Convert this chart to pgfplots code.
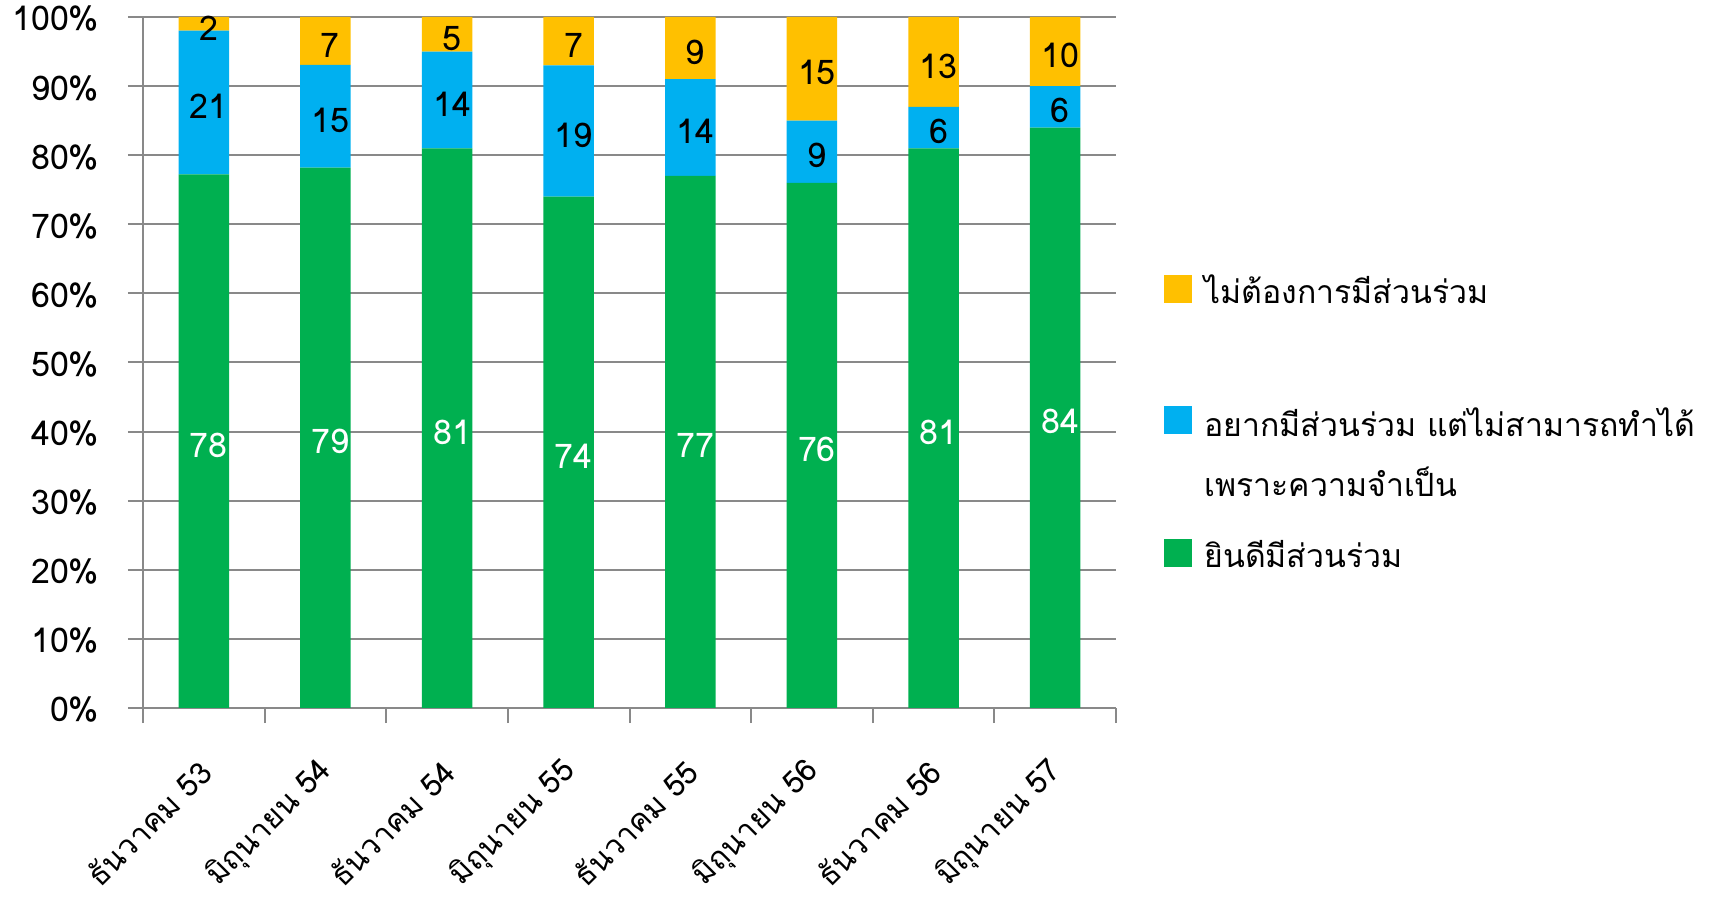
\documentclass[border=0pt]{standalone}
\usepackage{pgfplots}
\pgfplotsset{compat=1.18}
\usepackage{pgfplotstable}
\usepackage{fontspec}
\setmainfont{Loma}[Script=Thai]
\definecolor{cgreen}{HTML}{00B050}
\definecolor{cblue}{HTML}{00B0F0}
\definecolor{cyellow}{HTML}{FFC000}
\definecolor{cgrid}{HTML}{898989}

% bar heights: raw values normalised to 100 per bar
\pgfplotstableread{
x g b y
0 77.228 20.792 1.980
1 78.218 14.851 6.931
2 81 14 5
3 74 19 7
4 77 14 9
5 76 9 15
6 81 6 13
7 84 6 10
}\bars
% label positions (segment middles) and raw labels
\pgfplotstableread{
x gm bm ym gl bl yl
0 38.61 87.62 99.01 78 21 2
1 39.11 85.64 96.53 79 15 7
2 40.5 88 97.5 81 14 5
3 37 83.5 96.5 74 19 7
4 38.5 84 95.5 77 14 9
5 38 80.5 92.5 76 9 15
6 40.5 84 93.5 81 6 13
7 42 87 95 84 6 10
}\labs

\begin{document}
\fontsize{16}{19}\selectfont
\begin{tikzpicture}
\useasboundingbox (0,0) rectangle (856pt,449.5pt);
\begin{axis}[
  at={(71.5pt,95.5pt)}, anchor=south west,
  scale only axis, width=486.5pt, height=345.5pt,
  ybar stacked, bar width=0.415,
  xmin=-0.5, xmax=7.5, ymin=0, ymax=100,
  xtick={0,...,7},
  xticklabels={ธันวาคม 53,มิถุนายน 54,ธันวาคม 54,มิถุนายน 55,ธันวาคม 55,มิถุนายน 56,ธันวาคม 56,มิถุนายน 57},
  minor xtick={-0.5,0.5,...,7.5},
  ytick={0,10,...,100},
  yticklabel={\pgfmathprintnumber{\tick}\%},
  /pgf/number format/assume math mode=true,
  axis x line*=bottom, axis y line*=left,
  axis line style={cgrid, line width=1pt},
  ymajorgrids, major grid style={cgrid, line width=1pt},
  tick align=outside,
  major tick length=7.5pt, minor tick length=7.5pt,
  tick style={cgrid, line width=1pt},
  major x tick style={draw=none},
  xticklabel style={xshift=1pt, yshift=-21.5pt, rotate=45, anchor=east, inner sep=0pt, font=\fontsize{15.5}{18}\selectfont},
  yticklabel style={anchor=east, inner sep=0pt, xshift=-14.2pt, yshift=-1pt, font=\fontsize{17}{20}\selectfont},
]
\addplot[fill=cgreen, draw=none] table[x=x,y=g]{\bars};
\addplot[fill=cblue, draw=none] table[x=x,y=b]{\bars};
\addplot[fill=cyellow, draw=none] table[x=x,y=y]{\bars};
\end{axis}
\begin{axis}[
  at={(71.5pt,95.5pt)}, anchor=south west,
  scale only axis, width=486.5pt, height=345.5pt,
  xmin=-0.5, xmax=7.5, ymin=0, ymax=100,
  hide axis, clip=false,
  nodes near coords, point meta=explicit symbolic,
  every node near coord/.append style={anchor=center, inner sep=0pt, xshift=2.5pt, yshift=-2pt, font=\fontsize{17}{20}\selectfont},
]
\addplot[draw=none, mark=none, every node near coord/.append style={text=white}] table[x=x,y=gm,meta=gl]{\labs};
\addplot[draw=none, mark=none] table[x=x,y=bm,meta=bl]{\labs};
\addplot[draw=none, mark=none] table[x=x,y=ym,meta=yl]{\labs};
\end{axis}
% legend
\fill[cyellow] (582pt,298.2pt) rectangle ++(14pt,14pt);
\node[anchor=base west, inner sep=0pt] at (602pt,297.5pt) {ไม่ต้องการมีส่วนร่วม};
\fill[cblue] (582pt,232.3pt) rectangle ++(14pt,14pt);
\node[anchor=base west, inner sep=0pt] at (602pt,231.2pt) {อยากมีส่วนร่วม แต่ไม่สามารถทำได้};
\node[anchor=base west, inner sep=0pt] at (602pt,201pt) {เพราะความจำเป็น};
\fill[cgreen] (582pt,166.2pt) rectangle ++(14pt,14pt);
\node[anchor=base west, inner sep=0pt] at (602pt,165.5pt) {ยินดีมีส่วนร่วม};
\end{tikzpicture}
\end{document}
